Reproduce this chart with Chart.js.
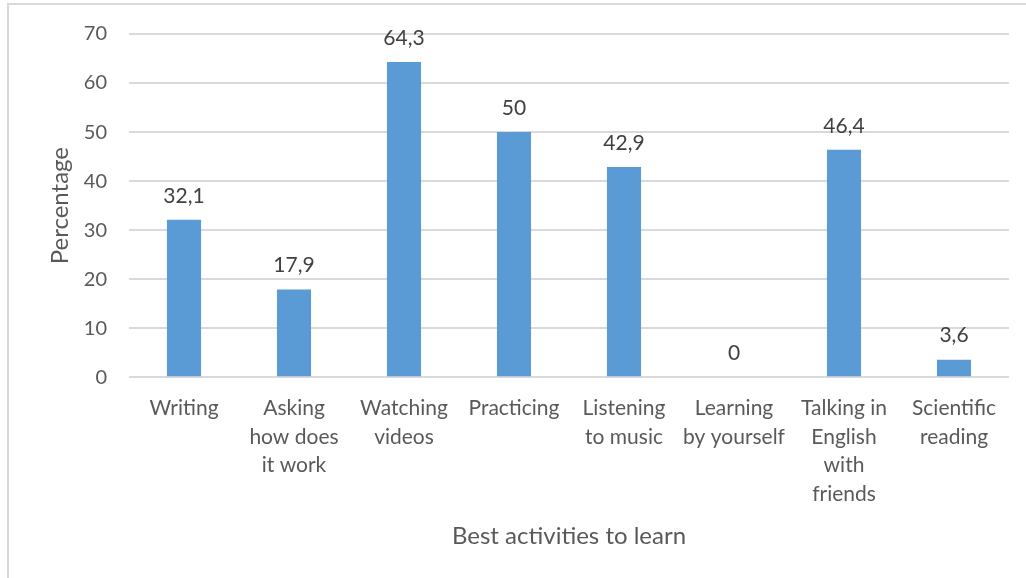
<!DOCTYPE html>
<html>
<head>
<meta charset="utf-8">
<script src="https://cdn.jsdelivr.net/npm/chart.js@4/dist/chart.umd.min.js"></script>
<style>
  html, body { margin: 0; padding: 0; background: #fff; overflow: hidden; }
  #frame { position: absolute; left: 7px; top: 3px; width: 1100px; height: 700px; border: 2px solid #d9d9d9; }
  #wrap { position: absolute; left: 0; top: 0; width: 1026px; height: 578px; }
</style>
</head>
<body>
<div id="frame"></div>
<div id="wrap"><canvas id="chart" width="1026" height="578"></canvas></div>
<script>
// Categories (multi-line labels as shown under the bars)
const categories = [
    ['Writing'],
    ['Asking', 'how does', 'it work'],
    ['Watching', 'videos'],
    ['Practicing'],
    ['Listening', 'to music'],
    ['Learning', 'by yourself'],
    ['Talking in', 'English', 'with', 'friends'],
    ['Scientific', 'reading']
];
const percentages = [32.1, 17.9, 64.3, 50, 42.9, 0, 46.4, 3.6];
const yTicks = [0, 10, 20, 30, 40, 50, 60, 70];

const FONT = 'Lato, "Open Sans", sans-serif';
const GREY = '#595959';

// Draws the value above each bar, with a decimal comma
const valueLabels = {
    id: 'valueLabels',
    afterDatasetsDraw(chart) {
        const ctx = chart.ctx;
        const meta = chart.getDatasetMeta(0);
        ctx.save();
        ctx.font = '21px ' + FONT;
        ctx.fillStyle = '#404040';
        ctx.textAlign = 'center';
        ctx.textBaseline = 'middle';
        meta.data.forEach((bar, i) => {
            const text = String(percentages[i]).replace('.', ',');
            ctx.fillText(text, bar.x, bar.y - 24);
        });
        ctx.restore();
    }
};

const ctx = document.getElementById('chart').getContext('2d');
new Chart(ctx, {
    type: 'bar',
    data: {
        labels: categories,
        datasets: [{
            data: percentages,
            backgroundColor: '#5b9bd5',
            borderWidth: 0,
            barPercentage: 0.31,
            categoryPercentage: 1.0
        }]
    },
    options: {
        responsive: false,
        animation: false,
        layout: { padding: { top: 22, right: 17, left: 46, bottom: 27 } },
        plugins: {
            legend: { display: false },
            tooltip: { enabled: false }
        },
        scales: {
            x: {
                grid: { display: false },
                border: { display: false },
                ticks: {
                    color: GREY,
                    font: { family: FONT, size: 21, lineHeight: 1.38 },
                    padding: 8,
                    maxRotation: 0,
                    autoSkip: false
                },
                title: {
                    display: true,
                    text: 'Best activities to learn',
                    color: GREY,
                    font: { family: FONT, size: 24 },
                    padding: { top: 5, bottom: 0 }
                }
            },
            y: {
                min: yTicks[0],
                max: yTicks[yTicks.length - 1],
                afterBuildTicks(axis) {
                    axis.ticks = yTicks.map(v => ({ value: v }));
                },
                grid: { color: '#d9d9d9', lineWidth: 2, drawTicks: false },
                border: { display: false },
                ticks: {
                    color: GREY,
                    font: { family: FONT, size: 20 },
                    padding: 22
                },
                title: {
                    display: true,
                    text: 'Percentage',
                    color: GREY,
                    font: { family: FONT, size: 24 },
                    padding: { top: 0, bottom: -13 }
                }
            }
        }
    },
    plugins: [valueLabels]
});
</script>
</body>
</html>
